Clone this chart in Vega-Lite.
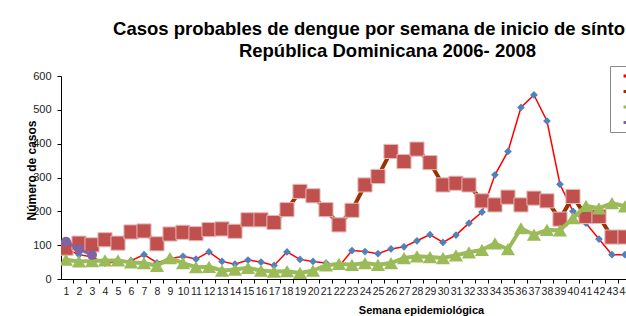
{
  "$schema": "https://vega.github.io/schema/vega-lite/v6.json",
  "width": 565,
  "height": 203,
  "autosize": {"type": "none"},
  "padding": {"left": 61, "top": 76, "right": 0, "bottom": 37},
  "background": "white",
  "config": {
    "view": {"stroke": null},
    "font": "Liberation Sans"
  },
  "title": {
    "text": ["Casos probables de dengue por semana de inicio de síntomas", "República Dominicana 2006- 2008"],
    "anchor": "middle",
    "frame": "group",
    "dx": 44,
    "offset": 5,
    "fontSize": 18.5,
    "fontWeight": "bold",
    "font": "Liberation Sans",
    "color": "#000000",
    "lineHeight": 22
  },
  "datasets": {
    "casos": [
      {"semana": 1, "serie": "2006", "casos": 88}, {"semana": 2, "serie": "2006", "casos": 72}, {"semana": 3, "serie": "2006", "casos": 65}, {"semana": 4, "serie": "2006", "casos": 47}, {"semana": 5, "serie": "2006", "casos": 50}, {"semana": 6, "serie": "2006", "casos": 54}, {"semana": 7, "serie": "2006", "casos": 72}, {"semana": 8, "serie": "2006", "casos": 48}, {"semana": 9, "serie": "2006", "casos": 60}, {"semana": 10, "serie": "2006", "casos": 67}, {"semana": 11, "serie": "2006", "casos": 59}, {"semana": 12, "serie": "2006", "casos": 80}, {"semana": 13, "serie": "2006", "casos": 52}, {"semana": 14, "serie": "2006", "casos": 44}, {"semana": 15, "serie": "2006", "casos": 56}, {"semana": 16, "serie": "2006", "casos": 50}, {"semana": 17, "serie": "2006", "casos": 40}, {"semana": 18, "serie": "2006", "casos": 80}, {"semana": 19, "serie": "2006", "casos": 58}, {"semana": 20, "serie": "2006", "casos": 52}, {"semana": 21, "serie": "2006", "casos": 47}, {"semana": 22, "serie": "2006", "casos": 37}, {"semana": 23, "serie": "2006", "casos": 84}, {"semana": 24, "serie": "2006", "casos": 81}, {"semana": 25, "serie": "2006", "casos": 75}, {"semana": 26, "serie": "2006", "casos": 89}, {"semana": 27, "serie": "2006", "casos": 95}, {"semana": 28, "serie": "2006", "casos": 113}, {"semana": 29, "serie": "2006", "casos": 131}, {"semana": 30, "serie": "2006", "casos": 108}, {"semana": 31, "serie": "2006", "casos": 130}, {"semana": 32, "serie": "2006", "casos": 165}, {"semana": 33, "serie": "2006", "casos": 198}, {"semana": 34, "serie": "2006", "casos": 308}, {"semana": 35, "serie": "2006", "casos": 377}, {"semana": 36, "serie": "2006", "casos": 507}, {"semana": 37, "serie": "2006", "casos": 544}, {"semana": 38, "serie": "2006", "casos": 467}, {"semana": 39, "serie": "2006", "casos": 280}, {"semana": 40, "serie": "2006", "casos": 200}, {"semana": 41, "serie": "2006", "casos": 165}, {"semana": 42, "serie": "2006", "casos": 118}, {"semana": 43, "serie": "2006", "casos": 72}, {"semana": 44, "serie": "2006", "casos": 72},
      {"semana": 1, "serie": "2007", "casos": 91}, {"semana": 2, "serie": "2007", "casos": 106}, {"semana": 3, "serie": "2007", "casos": 101}, {"semana": 4, "serie": "2007", "casos": 116}, {"semana": 5, "serie": "2007", "casos": 106}, {"semana": 6, "serie": "2007", "casos": 139}, {"semana": 7, "serie": "2007", "casos": 142}, {"semana": 8, "serie": "2007", "casos": 104}, {"semana": 9, "serie": "2007", "casos": 133}, {"semana": 10, "serie": "2007", "casos": 138}, {"semana": 11, "serie": "2007", "casos": 134}, {"semana": 12, "serie": "2007", "casos": 146}, {"semana": 13, "serie": "2007", "casos": 148}, {"semana": 14, "serie": "2007", "casos": 141}, {"semana": 15, "serie": "2007", "casos": 175}, {"semana": 16, "serie": "2007", "casos": 175}, {"semana": 17, "serie": "2007", "casos": 167}, {"semana": 18, "serie": "2007", "casos": 205}, {"semana": 19, "serie": "2007", "casos": 259}, {"semana": 20, "serie": "2007", "casos": 246}, {"semana": 21, "serie": "2007", "casos": 205}, {"semana": 22, "serie": "2007", "casos": 160}, {"semana": 23, "serie": "2007", "casos": 203}, {"semana": 24, "serie": "2007", "casos": 278}, {"semana": 25, "serie": "2007", "casos": 303}, {"semana": 26, "serie": "2007", "casos": 377}, {"semana": 27, "serie": "2007", "casos": 347}, {"semana": 28, "serie": "2007", "casos": 384}, {"semana": 29, "serie": "2007", "casos": 344}, {"semana": 30, "serie": "2007", "casos": 278}, {"semana": 31, "serie": "2007", "casos": 283}, {"semana": 32, "serie": "2007", "casos": 278}, {"semana": 33, "serie": "2007", "casos": 231}, {"semana": 34, "serie": "2007", "casos": 219}, {"semana": 35, "serie": "2007", "casos": 242}, {"semana": 36, "serie": "2007", "casos": 219}, {"semana": 37, "serie": "2007", "casos": 239}, {"semana": 38, "serie": "2007", "casos": 231}, {"semana": 39, "serie": "2007", "casos": 177}, {"semana": 40, "serie": "2007", "casos": 244}, {"semana": 41, "serie": "2007", "casos": 185}, {"semana": 42, "serie": "2007", "casos": 185}, {"semana": 43, "serie": "2007", "casos": 124}, {"semana": 44, "serie": "2007", "casos": 124},
      {"semana": 1, "serie": "2008", "casos": 57}, {"semana": 2, "serie": "2008", "casos": 52}, {"semana": 3, "serie": "2008", "casos": 53}, {"semana": 4, "serie": "2008", "casos": 55}, {"semana": 5, "serie": "2008", "casos": 55}, {"semana": 6, "serie": "2008", "casos": 49}, {"semana": 7, "serie": "2008", "casos": 47}, {"semana": 8, "serie": "2008", "casos": 39}, {"semana": 9, "serie": "2008", "casos": 62}, {"semana": 10, "serie": "2008", "casos": 47}, {"semana": 11, "serie": "2008", "casos": 35}, {"semana": 12, "serie": "2008", "casos": 36}, {"semana": 13, "serie": "2008", "casos": 25}, {"semana": 14, "serie": "2008", "casos": 28}, {"semana": 15, "serie": "2008", "casos": 33}, {"semana": 16, "serie": "2008", "casos": 25}, {"semana": 17, "serie": "2008", "casos": 22}, {"semana": 18, "serie": "2008", "casos": 23}, {"semana": 19, "serie": "2008", "casos": 18}, {"semana": 20, "serie": "2008", "casos": 25}, {"semana": 21, "serie": "2008", "casos": 40}, {"semana": 22, "serie": "2008", "casos": 45}, {"semana": 23, "serie": "2008", "casos": 42}, {"semana": 24, "serie": "2008", "casos": 47}, {"semana": 25, "serie": "2008", "casos": 42}, {"semana": 26, "serie": "2008", "casos": 47}, {"semana": 27, "serie": "2008", "casos": 62}, {"semana": 28, "serie": "2008", "casos": 67}, {"semana": 29, "serie": "2008", "casos": 65}, {"semana": 30, "serie": "2008", "casos": 62}, {"semana": 31, "serie": "2008", "casos": 70}, {"semana": 32, "serie": "2008", "casos": 79}, {"semana": 33, "serie": "2008", "casos": 86}, {"semana": 34, "serie": "2008", "casos": 105}, {"semana": 35, "serie": "2008", "casos": 88}, {"semana": 36, "serie": "2008", "casos": 150}, {"semana": 37, "serie": "2008", "casos": 131}, {"semana": 38, "serie": "2008", "casos": 145}, {"semana": 39, "serie": "2008", "casos": 144}, {"semana": 40, "serie": "2008", "casos": 180}, {"semana": 41, "serie": "2008", "casos": 216}, {"semana": 42, "serie": "2008", "casos": 209}, {"semana": 43, "serie": "2008", "casos": 224}, {"semana": 44, "serie": "2008", "casos": 215},
      {"semana": 1, "serie": "2009", "casos": 110}, {"semana": 2, "serie": "2009", "casos": 88}, {"semana": 3, "serie": "2009", "casos": 71}
    ]
  },
  "data": {"name": "casos"},
  "encoding": {
    "x": {
      "field": "semana",
      "type": "quantitative",
      "scale": {"domain": [0.615, 44.08], "nice": false, "zero": false},
      "axis": {
        "title": "Semana epidemiológica",
        "titleFontSize": 11,
        "titleFontWeight": "bold",
        "titleColor": "#000000",
        "titleX": 360,
        "titleY": 34,
        "titleAlign": "center",
        "titleBaseline": "alphabetic",
        "values": [1,2,3,4,5,6,7,8,9,10,11,12,13,14,15,16,17,18,19,20,21,22,23,24,25,26,27,28,29,30,31,32,33,34,35,36,37,38,39,40,41,42,43,44],
        "format": "d",
        "labelOverlap": false,
        "labelFlush": false,
        "labelBound": false,
        "labelFontSize": 10.5,
        "labelColor": "#222222",
        "labelPadding": 3,
        "tickOffset": 6.5,
        "labelOffset": -6.5,
        "tickSize": 4,
        "tickColor": "#000000",
        "domainColor": "#000000",
        "grid": false
      }
    },
    "y": {
      "field": "casos",
      "type": "quantitative",
      "scale": {"domain": [0, 600], "nice": false},
      "axis": {
        "title": "Número de casos",
        "titleFontSize": 12,
        "titleFontWeight": "bold",
        "titleColor": "#000000",
        "titleX": -30,
        "titleY": 94,
        "titleAngle": 270,
        "titleAlign": "center",
        "titleBaseline": "middle",
        "values": [0, 100, 200, 300, 400, 500, 600],
        "labelFontSize": 11,
        "labelColor": "#222222",
        "labelPadding": 6,
        "tickSize": 4,
        "tickColor": "#000000",
        "domainColor": "#000000",
        "grid": false
      }
    },
    "color": {
      "field": "serie",
      "type": "nominal",
      "scale": {"domain": ["2006", "2007", "2008", "2009"], "range": ["#FF0000", "#993300", "#9BBB59", "#8064A2"]},
      "legend": {
        "title": null,
        "orient": "none",
        "legendX": 549,
        "legendY": -10,
        "strokeColor": "#888888",
        "padding": 3,
        "symbolOffset": 9,
        "symbolType": "stroke",
        "symbolStrokeWidth": 3,
        "symbolSize": 120,
        "labelFontSize": 11,
        "rowPadding": 2.5
      }
    }
  },
  "layer": [
    {
      "transform": [{"filter": "datum.serie === '2006'"}],
      "mark": {"type": "line", "clip": true, "strokeWidth": 1.5}
    },
    {
      "transform": [{"filter": "datum.serie === '2006'"}],
      "mark": {"type": "point", "filled": true, "clip": true, "opacity": 1, "shape": "diamond", "size": 60},
      "encoding": {"color": {"value": "#4F81BD"}}
    },
    {
      "transform": [{"filter": "datum.serie === '2007'"}],
      "mark": {"type": "line", "clip": true, "strokeWidth": 4}
    },
    {
      "transform": [{"filter": "datum.serie === '2007'"}],
      "mark": {"type": "point", "filled": true, "clip": true, "opacity": 1, "shape": "square", "size": 200, "stroke": "#E6B9B8", "strokeWidth": 1},
      "encoding": {"color": {"value": "#C0504D"}}
    },
    {
      "transform": [{"filter": "datum.serie === '2008'"}],
      "mark": {"type": "line", "clip": true, "strokeWidth": 4}
    },
    {
      "transform": [{"filter": "datum.serie === '2008'"}],
      "mark": {"type": "point", "filled": true, "clip": true, "opacity": 1, "shape": "triangle-up", "size": 200},
      "encoding": {"color": {"value": "#9BBB59"}}
    },
    {
      "transform": [{"filter": "datum.serie === '2009'"}],
      "mark": {"type": "line", "clip": true, "strokeWidth": 3}
    },
    {
      "transform": [{"filter": "datum.serie === '2009'"}],
      "mark": {"type": "point", "filled": true, "clip": true, "opacity": 1, "shape": "circle", "size": 100},
      "encoding": {"color": {"value": "#8064A2"}}
    }
  ]
}
